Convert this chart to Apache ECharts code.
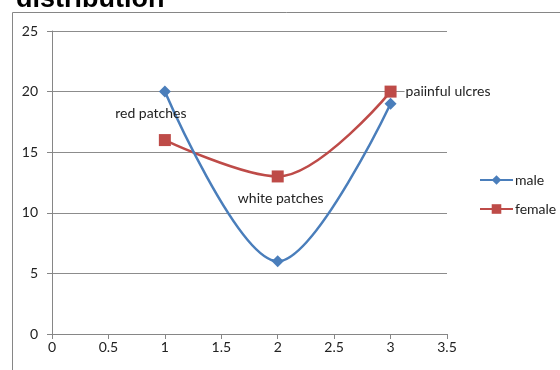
<!DOCTYPE html>
<html>
<head>
<meta charset="utf-8">
<script src="https://cdn.jsdelivr.net/npm/echarts@6/dist/echarts.min.js"></script>
<style>
  html, body { margin: 0; padding: 0; background: #fff; }
  #chart { width: 560px; height: 370px; }
</style>
</head>
<body>
<div id="chart"></div>
<script>
// Symptom counts by stage, per sex
const xValues = [1, 2, 3];
const maleValues = [20, 6, 19];
const femaleValues = [16, 13, 20];
const pointNames = ['red patches', 'white patches', 'paiinful ulcres'];
const yTicks = { min: 0, max: 25, interval: 5 };
const xTicks = { min: 0, max: 3.5, interval: 0.5 };

const BLUE = '#4a7ebb';
const RED = '#be4b48';
const FONT = 'Lato, "Liberation Sans", sans-serif';

const chart = echarts.init(document.getElementById('chart'), null, { renderer: 'canvas' });

const maleData = xValues.map((x, i) => {
  const d = { value: [x, maleValues[i]] };
  if (i === 0) {
    d.label = { show: true, formatter: pointNames[0], position: 'bottom', offset: [-14, 4] };
  }
  return d;
});
const femaleData = xValues.map((x, i) => {
  const d = { value: [x, femaleValues[i]] };
  if (i === 1) {
    d.label = { show: true, formatter: pointNames[1], position: 'bottom', offset: [3, 4] };
  } else if (i === 2) {
    d.label = {
      show: true, formatter: pointNames[2], position: 'right', distance: 8,
      backgroundColor: '#fff', padding: [0, 1, 0, 1]
    };
  }
  return d;
});

const labelStyle = { color: '#222', fontSize: 14, fontFamily: FONT };

chart.setOption({
  animation: false,
  backgroundColor: '#fff',
  textStyle: { fontFamily: FONT },
  title: {
    text: 'distribution',
    left: 11,
    top: -19,
    textStyle: { fontSize: 27, fontWeight: 'bold', color: '#000', fontFamily: '"Liberation Sans", Arial, sans-serif' }
  },
  graphic: [{
    type: 'rect',
    shape: { x: 12.5, y: 12.5, width: 600, height: 400 },
    style: { fill: 'none', stroke: '#868686', lineWidth: 1 },
    silent: true,
    z: -1
  }],
  grid: { left: 52, right: 113, top: 31, bottom: 36, containLabel: false },
  legend: {
    orient: 'vertical',
    left: 474,
    top: 168,
    itemWidth: 33,
    itemHeight: 12,
    itemGap: 15,
    textStyle: { fontSize: 14, color: '#222', fontFamily: FONT, padding: [0, 0, 0, -3] },
    data: ['male', 'female']
  },
  xAxis: {
    type: 'value',
    min: xTicks.min,
    max: xTicks.max,
    interval: xTicks.interval,
    axisLine: { show: true, lineStyle: { color: '#868686' } },
    axisTick: { show: true, length: 5, lineStyle: { color: '#868686' } },
    splitLine: { show: false },
    axisLabel: { color: '#222', fontSize: 14, fontFamily: FONT, margin: 6 }
  },
  yAxis: {
    type: 'value',
    min: yTicks.min,
    max: yTicks.max,
    interval: yTicks.interval,
    axisLine: { show: true, lineStyle: { color: '#868686' } },
    axisTick: { show: true, length: 5, lineStyle: { color: '#868686' } },
    splitLine: { show: true, lineStyle: { color: '#8c8c8c', width: 1 } },
    axisLabel: { color: '#222', fontSize: 14, fontFamily: FONT, margin: 14 }
  },
  series: [
    {
      name: 'male',
      type: 'line',
      data: maleData,
      smooth: 0.34,
      symbol: 'diamond',
      symbolSize: 12,
      lineStyle: { color: BLUE, width: 2.5 },
      itemStyle: { color: BLUE },
      label: labelStyle,
      z: 3
    },
    {
      name: 'female',
      type: 'line',
      data: femaleData,
      smooth: 0.34,
      symbol: 'rect',
      symbolSize: 12,
      lineStyle: { color: RED, width: 2.5 },
      itemStyle: { color: RED },
      label: labelStyle,
      z: 2
    }
  ]
});
</script>
</body>
</html>
